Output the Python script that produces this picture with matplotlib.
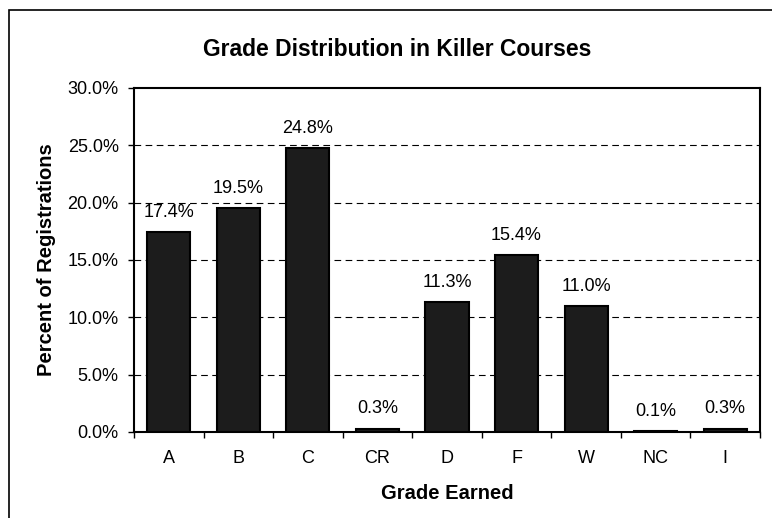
import matplotlib.pyplot as plt
from matplotlib.patches import Rectangle
from matplotlib.ticker import FuncFormatter

plt.rcParams['font.family'] = ['Liberation Sans', 'DejaVu Sans']

grades = ['A', 'B', 'C', 'CR', 'D', 'F', 'W', 'NC', 'I']
percents = [17.4, 19.5, 24.8, 0.3, 11.3, 15.4, 11.0, 0.1, 0.3]
yticks = [0, 5, 10, 15, 20, 25, 30]

fig = plt.figure(figsize=(7.72, 5.18), dpi=100)
ax = fig.add_axes([134/772, 1-432/518, (760-134)/772, (432-88)/518])

# outer chart frame (cropped at right and bottom)
fig.patches.append(Rectangle((9/772, -0.1), 1.2, 1 - 10/518 + 0.1,
                             transform=fig.transFigure, fill=False,
                             edgecolor='black', linewidth=1.2))

x = range(len(grades))
ax.bar(x, percents, width=0.62, color='#1c1c1c', edgecolor='black',
       linewidth=1.5, zorder=3)
for i, v in enumerate(percents):
    ax.annotate('%.1f%%' % v, (i, v), xytext=(0, 8), textcoords='offset points',
                ha='center', va='bottom', fontsize=13)

ax.set_xlim(-0.5, len(grades) - 0.5)
ax.set_ylim(0, 30)
ax.set_yticks(yticks)
ax.yaxis.set_major_formatter(FuncFormatter(lambda v, p: '%.1f%%' % v))
ax.set_xticks(x)
ax.set_xticklabels(grades)
ax.set_xticks([i - 0.5 for i in range(len(grades) + 1)], minor=True)
ax.tick_params(axis='x', which='major', length=0, pad=13, labelsize=13)
ax.tick_params(axis='x', which='minor', length=4, width=1, direction='out')
ax.tick_params(axis='y', length=4, width=1, direction='out', labelsize=13, pad=7)

for y in yticks[1:-1]:
    ax.axhline(y, color='black', linewidth=0.8, linestyle=(0, (6, 4)), zorder=1)

for s in ax.spines.values():
    s.set_linewidth(1.5)

ax.set_xlabel('Grade Earned', fontsize=14.5, fontweight='bold', labelpad=12)
ax.set_ylabel('Percent of Registrations', fontsize=14.5, fontweight='bold', labelpad=8)
fig.text(397/772, 1-49/518, 'Grade Distribution in Killer Courses', ha='center',
         va='center', fontsize=16.5, fontweight='bold')

fig.savefig('out.png', dpi=100)
